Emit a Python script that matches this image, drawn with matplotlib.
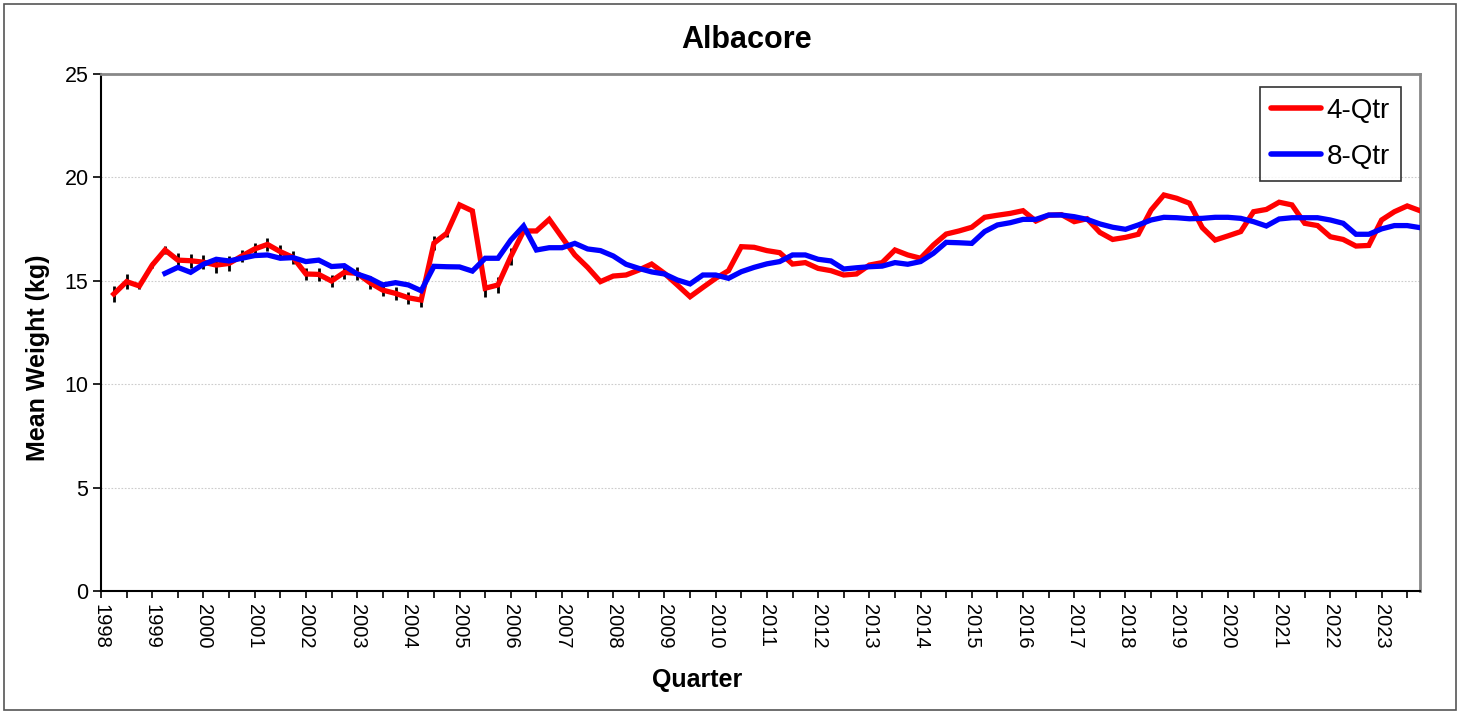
import matplotlib
matplotlib.use("Agg")
import matplotlib.pyplot as plt
from matplotlib.patches import Rectangle
import numpy as np

plt.rcParams['font.family'] = ['Liberation Sans', 'DejaVu Sans']

# ---- data (quarter index k: 0 = 1998 Q1) ----
red_start = 1
red_values = [14.36, 14.96, 14.75, 15.76, 16.49, 16.00, 15.97, 15.90, 15.76, 15.84,
              16.20, 16.54, 16.76, 16.41, 16.13, 15.33, 15.31, 14.99, 15.41, 15.36,
              14.91, 14.55, 14.39, 14.18, 14.07, 16.82, 17.30, 18.67, 18.38, 14.64,
              14.80, 16.17, 17.41, 17.41, 17.97, 17.10, 16.25, 15.65, 14.96, 15.23,
              15.28, 15.52, 15.81, 15.36, 14.80, 14.23, 14.68, 15.12, 15.49, 16.65,
              16.62, 16.46, 16.36, 15.81, 15.88, 15.60, 15.49, 15.28, 15.33, 15.76,
              15.88, 16.49, 16.25, 16.09, 16.73, 17.26, 17.41, 17.59, 18.07, 18.17,
              18.26, 18.39, 17.89, 18.17, 18.20, 17.86, 18.00, 17.34, 17.00, 17.10,
              17.25, 18.42, 19.15, 18.99, 18.75, 17.57, 16.97, 17.17, 17.38, 18.34,
              18.45, 18.80, 18.67, 17.78, 17.67, 17.13, 17.00, 16.68, 16.71, 17.94,
              18.34, 18.62, 18.39]
red_err = [0.40, 0.35, 0.15, 0.15, 0.20, 0.35, 0.35, 0.35, 0.40, 0.35,
           0.30, 0.30, 0.30, 0.30, 0.30, 0.30, 0.30, 0.30, 0.30, 0.30,
           0.30, 0.30, 0.30, 0.30, 0.35, 0.35, 0.20, 0.10, 0.10, 0.40,
           0.40, 0.40]
blue_start = 5
blue_values = [15.36, 15.65, 15.41, 15.80, 16.04, 15.96, 16.09, 16.22, 16.25, 16.09,
               16.12, 15.93, 16.00, 15.69, 15.73, 15.33, 15.12, 14.80, 14.91, 14.80,
               14.52, 15.70, 15.68, 15.67, 15.47, 16.09, 16.09, 16.97, 17.65, 16.49,
               16.60, 16.60, 16.81, 16.54, 16.46, 16.20, 15.80, 15.60, 15.43, 15.33,
               15.04, 14.85, 15.28, 15.28, 15.12, 15.44, 15.65, 15.82, 15.93, 16.25,
               16.25, 16.04, 15.96, 15.57, 15.63, 15.68, 15.71, 15.88, 15.80, 15.93,
               16.33, 16.86, 16.84, 16.81, 17.38, 17.70, 17.81, 17.97, 17.97, 18.18,
               18.18, 18.10, 17.97, 17.75, 17.59, 17.49, 17.70, 17.94, 18.07, 18.05,
               18.00, 18.02, 18.07, 18.07, 18.02, 17.86, 17.65, 17.99, 18.05, 18.05,
               18.05, 17.94, 17.78, 17.25, 17.25, 17.51, 17.67, 17.67, 17.57]
years = list(range(1998, 2024))
series_labels = ["4-Qtr", "8-Qtr"]
title = "Albacore"
xlabel = "Quarter"
ylabel = "Mean Weight (kg)"

red_x = 1998 + (red_start + np.arange(len(red_values))) / 4.0
blue_x = 1998 + (blue_start + np.arange(len(blue_values))) / 4.0
err_x = red_x[:len(red_err)]

W, H = 1461, 713
fig = plt.figure(figsize=(W / 100, H / 100), dpi=100)
fig.patch.set_facecolor('white')
fig.add_artist(Rectangle((4 / W, 3 / H), 1452 / W, 706 / H, transform=fig.transFigure,
                         fill=False, edgecolor='#555555', linewidth=1.2))

ax = fig.add_axes([101 / W, 1 - 591 / H, (1420 - 101) / W, (591 - 74) / H])

ax.errorbar(err_x, red_values[:len(red_err)], yerr=red_err, fmt='none',
            ecolor='black', elinewidth=2.0, capsize=0, zorder=2)
ax.plot(red_x, red_values, color='#FF0000', linewidth=3.8, label=series_labels[0],
        zorder=3, solid_joinstyle='miter')
ax.plot(blue_x, blue_values, color='#0000FF', linewidth=3.8, label=series_labels[1],
        zorder=4, solid_joinstyle='miter')

ax.set_xlim(1998, 2023.75)
ax.set_ylim(0, 25)
ax.set_yticks(range(0, 26, 5))
ax.set_xticks(years)
ax.set_xticks(np.arange(1998.5, 2023.8, 1.0), minor=True)
ax.set_xticklabels([str(y) for y in years], rotation=-90, fontsize=14.5)
ax.tick_params(axis='y', labelsize=15.5, direction='out', length=6, width=1.2, pad=3)
ax.tick_params(axis='x', which='both', direction='out', length=5, width=1.2, pad=4)

ax.grid(axis='y', color='#cccccc', linestyle=(0, (1.5, 1.5)), linewidth=0.8)
ax.set_axisbelow(True)

for s in ['left', 'bottom']:
    ax.spines[s].set_color('black')
    ax.spines[s].set_linewidth(1.5)
for s in ['top', 'right']:
    ax.spines[s].set_color('#888888')
    ax.spines[s].set_linewidth(2.0)

fig.text(747 / W, 1 - 40 / H, title, ha='center', va='center', fontsize=22, fontweight='bold')
fig.text(697 / W, 1 - 680 / H, xlabel, ha='center', va='center', fontsize=18, fontweight='bold')
fig.text(38 / W, 1 - 358 / H, ylabel, ha='center', va='center', rotation=90,
         fontsize=18, fontweight='bold')

leg = ax.legend(loc='upper right', bbox_to_anchor=(1401 / W, 1 - 87 / H),
                bbox_transform=fig.transFigure, fontsize=20, frameon=True, fancybox=False,
                handlelength=1.8, handletextpad=0.2, borderpad=0.4, labelspacing=0.7,
                borderaxespad=0)
leg.get_frame().set_edgecolor('black')
leg.get_frame().set_linewidth(1.2)
for line in leg.get_lines():
    line.set_linewidth(4)
    line.set_solid_capstyle('round')

fig.savefig('out.png', dpi=100, facecolor='white')
